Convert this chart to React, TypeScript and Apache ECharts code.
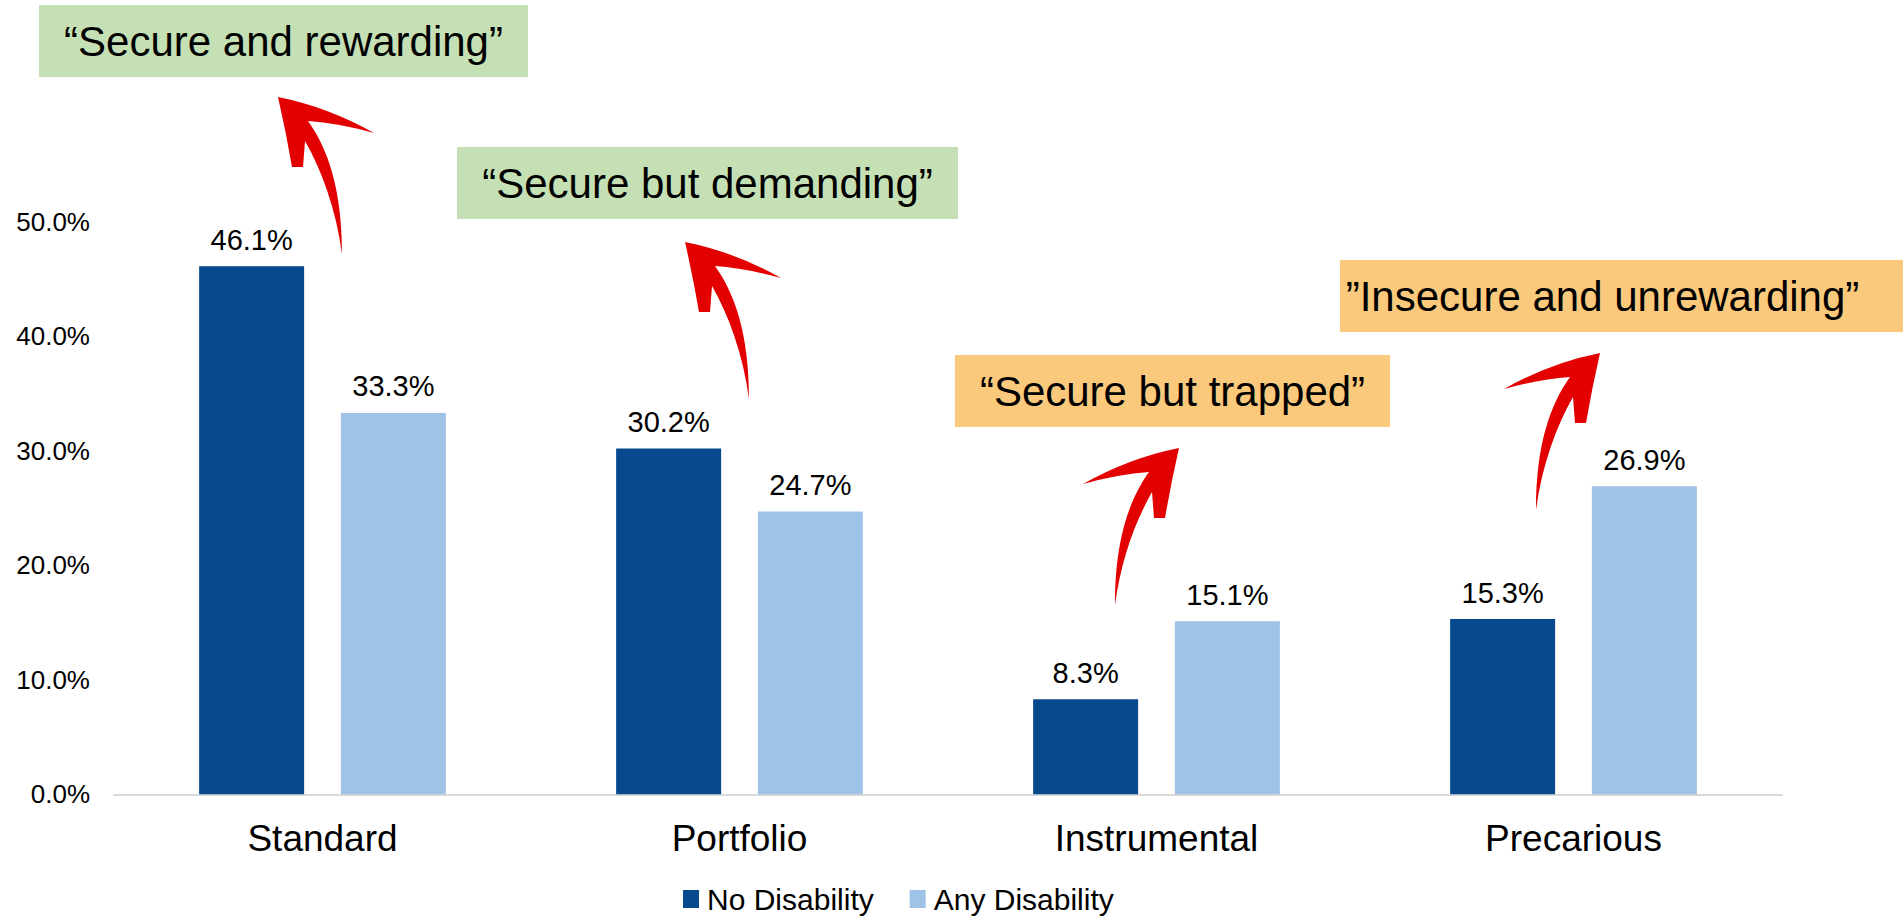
import React, { useEffect, useRef } from "react";
import * as echarts from "echarts";

const categories = ["Standard", "Portfolio", "Instrumental", "Precarious"];
const seriesNames = ["No Disability", "Any Disability"];
const noDisability = [46.1, 30.2, 8.3, 15.3];
const anyDisability = [33.3, 24.7, 15.1, 26.9];
const yMin = 0;
const yMax = 50;
const yStep = 10;
const annotationTexts = [
  "\u201CSecure and rewarding\u201D",
  "\u201CSecure but demanding\u201D",
  "\u201CSecure but trapped\u201D",
  "\u201DInsecure and unrewarding\u201D",
];

const FONT = "Arial, 'Liberation Sans', Helvetica, sans-serif";
const DARK = "#064A8D";
const LIGHT = "#9FC3E6";
const GREEN = "#C5E0B4";
const ORANGE = "#FAC97B";
const RED = "#E30000";

const ARROW_D =
  "M0,0 Q50,10 96,36 Q60,26 30,24 C50,52 64,92 64,157 C58,112 44,74 27,44 L25,70 L14,70 Q8,35 0,0 Z";

echarts.graphic.registerShape("brushArrow", echarts.graphic.extendPath(ARROW_D, {}) as any);

const boxLayout = [
  { x: 39, y: 5, w: 489, h: 72, fill: GREEN },
  { x: 457, y: 147, w: 501, h: 72, fill: GREEN },
  { x: 955, y: 355, w: 435, h: 72, fill: ORANGE },
  { x: 1340, y: 260, w: 563, h: 72, fill: ORANGE },
];

const arrowLayout = [
  { x: 278, y: 97, flip: false },
  { x: 685, y: 242, flip: false },
  { x: 1179, y: 448, flip: true },
  { x: 1600, y: 353, flip: true },
];

export default function App() {
  const ref = useRef<HTMLDivElement>(null);

  useEffect(() => {
    if (!ref.current) return;
    const chart = echarts.init(ref.current, null, { renderer: "svg" });

    const graphics: any[] = [];
    boxLayout.forEach((b, i) => {
      graphics.push({
        type: "rect",
        shape: { x: b.x, y: b.y, width: b.w, height: b.h },
        style: { fill: b.fill },
        z: 10,
      });
      graphics.push({
        type: "text",
        x: b.x + b.w / 2 + (i === 3 ? -19 : 0),
        y: b.y + b.h / 2,
        style: {
          text: annotationTexts[i],
          fontSize: 42,
          fontFamily: FONT,
          fill: "#000",
          align: "center",
          verticalAlign: "middle",
        },
        z: 11,
      });
    });
    arrowLayout.forEach((a) => {
      graphics.push({
        type: "brushArrow",
        x: a.x,
        y: a.y,
        scaleX: a.flip ? -1 : 1,
        scaleY: 1,
        style: { fill: RED },
        z: 12,
      });
    });

    const labelFmt = (p: any) => Number(p.value).toFixed(1) + "%";

    chart.setOption({
      animation: false,
      backgroundColor: "#fff",
      textStyle: { fontFamily: FONT },
      grid: { left: 114, right: 121, top: 221.7, bottom: 125.7, containLabel: false },
      legend: {
        data: seriesNames,
        left: 683,
        top: 884,
        padding: 0,
        icon: "rect",
        itemWidth: 16,
        itemHeight: 18,
        itemGap: 36,
        textStyle: { fontSize: 30, lineHeight: 30, color: "#000", fontFamily: FONT, padding: [0, 0, 0, 3] },
      },
      xAxis: {
        type: "category",
        data: categories,
        axisTick: { show: false },
        axisLine: { lineStyle: { color: "#D9D9D9", width: 2 } },
        axisLabel: { fontSize: 37, color: "#000", margin: 26, fontFamily: FONT },
      },
      yAxis: {
        type: "value",
        min: yMin,
        max: yMax,
        interval: yStep,
        splitLine: { show: false },
        axisLine: { show: false },
        axisTick: { show: false },
        axisLabel: {
          fontSize: 26,
          color: "#000",
          margin: 24,
          fontFamily: FONT,
          formatter: (v: number) => v.toFixed(1) + "%",
        },
      },
      series: [
        {
          name: seriesNames[0],
          type: "bar",
          data: noDisability,
          barWidth: 105,
          barGap: "35%",
          itemStyle: { color: DARK },
          label: { show: true, position: "top", distance: 12, fontSize: 29, color: "#000", fontFamily: FONT, formatter: labelFmt },
        },
        {
          name: seriesNames[1],
          type: "bar",
          data: anyDisability,
          barWidth: 105,
          barGap: "35%",
          itemStyle: { color: LIGHT },
          label: { show: true, position: "top", distance: 12, fontSize: 29, color: "#000", fontFamily: FONT, formatter: labelFmt },
        },
      ],
      graphic: graphics,
    });

    return () => chart.dispose();
  }, []);

  return (
    <div
      ref={ref}
      style={{ position: "fixed", left: 0, top: 0, width: "1903px", height: "920px", background: "#fff" }}
    />
  );
}
